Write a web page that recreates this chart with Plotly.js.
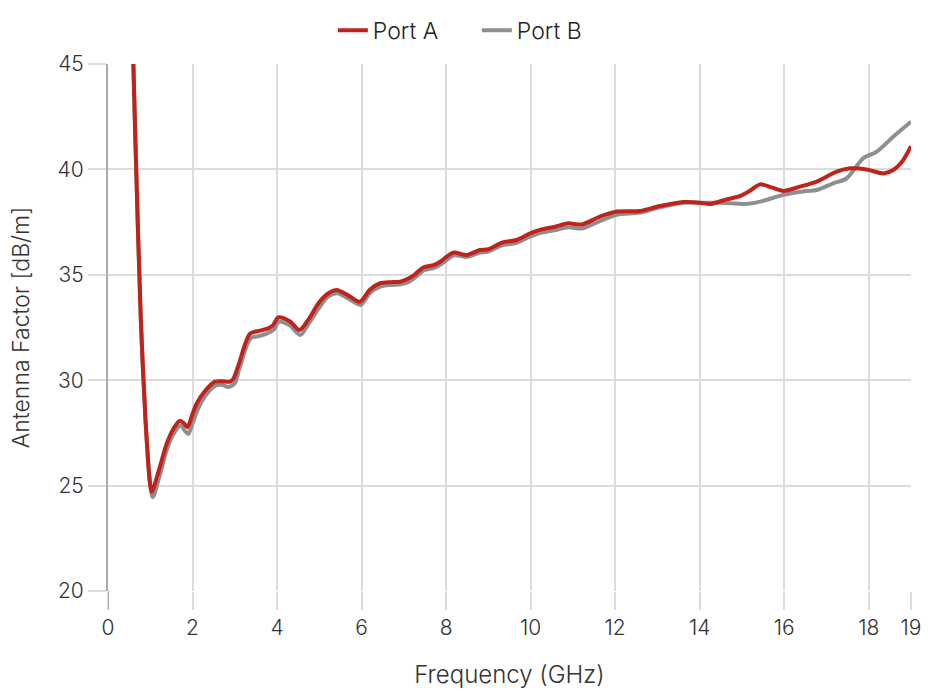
<!DOCTYPE html>
<html>
<head>
<meta charset="utf-8">
<script src="https://cdn.plot.ly/plotly-3.0.1.min.js"></script>
<style>html,body{margin:0;padding:0;background:#fff;}#chart{width:930px;height:696px;}</style>
</head>
<body>
<div id="chart"></div>
<script>
var portA_freq = [0.55, 0.60, 0.655, 0.774, 0.883, 0.994, 1.034, 1.2, 1.39, 1.55, 1.70, 1.80, 1.88, 2.0, 2.10, 2.3, 2.53, 2.7, 2.89, 2.97, 3.1, 3.36, 3.6, 3.79, 3.9, 4.03, 4.3, 4.53, 4.75, 4.98, 5.2, 5.41, 5.7, 5.96, 6.2, 6.44, 6.7, 6.91, 7.07, 7.25, 7.46, 7.70, 7.86, 8.17, 8.49, 8.80, 9.0, 9.32, 9.67, 9.99, 10.22, 10.58, 10.89, 11.21, 11.64, 12.04, 12.59, 13.06, 13.61, 14.01, 14.25, 14.64, 14.96, 15.2, 15.43, 15.7, 15.98, 16.37, 16.77, 17.24, 17.56, 17.95, 18.35, 18.58, 18.8, 19.0];
var portA_af = [48.5, 45, 40.92, 33.01, 28.27, 25.11, 24.71, 25.7, 27.0, 27.7, 28.08, 27.95, 27.77, 28.4, 28.9, 29.5, 29.93, 29.95, 29.93, 30.08, 30.8, 32.2, 32.35, 32.46, 32.6, 32.98, 32.8, 32.38, 32.9, 33.65, 34.1, 34.28, 34.0, 33.72, 34.3, 34.6, 34.65, 34.67, 34.79, 35.0, 35.35, 35.46, 35.62, 36.05, 35.94, 36.18, 36.21, 36.53, 36.65, 36.97, 37.13, 37.28, 37.44, 37.39, 37.76, 38.0, 38.03, 38.26, 38.45, 38.42, 38.36, 38.58, 38.74, 39.0, 39.29, 39.15, 38.98, 39.18, 39.42, 39.89, 40.05, 40.0, 39.81, 39.97, 40.4, 41.1];

var portB_freq = [0.55, 0.60, 0.66, 0.78, 0.89, 1.0, 1.06, 1.2, 1.39, 1.55, 1.72, 1.82, 1.90, 2.0, 2.12, 2.3, 2.55, 2.7, 2.85, 3.0, 3.1, 3.38, 3.6, 3.8, 3.92, 4.05, 4.3, 4.55, 4.75, 5.0, 5.2, 5.43, 5.7, 5.98, 6.2, 6.46, 6.7, 6.93, 7.1, 7.25, 7.48, 7.72, 7.88, 8.19, 8.5, 8.8, 9.0, 9.32, 9.67, 10.0, 10.22, 10.58, 10.89, 11.21, 11.64, 12.04, 12.59, 13.06, 13.61, 14.01, 14.49, 15.11, 15.43, 15.98, 16.53, 16.77, 17.16, 17.48, 17.87, 18.19, 18.58, 19.0];
var portB_af = [48.5, 45, 40.5, 32.7, 28.0, 25.0, 24.45, 25.3, 26.7, 27.45, 27.85, 27.6, 27.45, 27.95, 28.6, 29.25, 29.75, 29.78, 29.68, 29.85, 30.5, 32.0, 32.1, 32.25, 32.4, 32.78, 32.6, 32.15, 32.7, 33.45, 33.95, 34.12, 33.85, 33.57, 34.15, 34.45, 34.52, 34.55, 34.65, 34.85, 35.22, 35.33, 35.5, 35.92, 35.85, 36.05, 36.1, 36.4, 36.52, 36.82, 36.98, 37.12, 37.25, 37.2, 37.55, 37.85, 37.95, 38.2, 38.42, 38.42, 38.42, 38.36, 38.47, 38.79, 38.98, 39.02, 39.34, 39.58, 40.53, 40.84, 41.55, 42.26];

var xTickVals = [0, 2, 4, 6, 8, 10, 12, 14, 16, 18, 19];
var xTickText = ["0", "2", "4", "6", "8", "10", "12", "14", "16", "18", "19"];
var yTickVals = [20, 25, 30, 35, 40, 45];

var FONT = "Inter, Lato, 'Noto Sans', sans-serif";

var traces = [
  {x: portB_freq, y: portB_af, name: "Port B", type: "scatter", mode: "lines",
   line: {color: "#8f8f8f", width: 4, shape: "spline", smoothing: 0.8}, legendrank: 2},
  {x: portA_freq, y: portA_af, name: "Port A", type: "scatter", mode: "lines",
   line: {color: "#c0221c", width: 4, shape: "spline", smoothing: 0.8}, legendrank: 1}
];

var layout = {
  width: 930, height: 696,
  margin: {l: 108, r: 19, t: 64, b: 105, autoexpand: false},
  paper_bgcolor: "#fff", plot_bgcolor: "#fff",
  font: {family: FONT, size: 21, color: "#333", weight: 300},
  showlegend: true,
  legend: {orientation: "h", x: 0.280, xanchor: "left", y: 1.064, yanchor: "middle",
           entrywidth: 99, entrywidthmode: "pixels",
           font: {family: FONT, size: 23, color: "#222", weight: 300}},
  xaxis: {
    range: [0, 19], tickmode: "array", tickvals: xTickVals, ticktext: xTickText, automargin: false,
    showgrid: true, gridcolor: "#dcdcdc", gridwidth: 2,
    ticks: "outside", ticklen: 18, tickcolor: "#dcdcdc", tickwidth: 2,
    showline: false, zeroline: false,
    tickfont: {family: FONT, size: 21, color: "#333", weight: 300},
    title: {text: "Frequency (GHz)", standoff: 26, font: {family: FONT, size: 24, color: "#333", weight: 300}}
  },
  yaxis: {
    range: [20, 45], tickmode: "array", tickvals: yTickVals, automargin: false,
    showgrid: true, gridcolor: "#dcdcdc", gridwidth: 2,
    ticks: "outside", ticklen: 18, tickcolor: "#dcdcdc", tickwidth: 2,
    showline: true, linecolor: "#aaaaaa", linewidth: 2, zeroline: false,
    tickfont: {family: FONT, size: 21, color: "#333", weight: 300},
    title: {text: "Antenna Factor [dB/m]", standoff: 22, font: {family: FONT, size: 23, color: "#333", weight: 300}}
  },
  shapes: [
    {type: "line", xref: "x", yref: "paper", x0: 0, x1: 0, y0: -0.035, y1: 0,
     line: {color: "#aaaaaa", width: 2}}
  ]
};

Plotly.newPlot("chart", traces, layout, {displayModeBar: false, staticPlot: true});
</script>
</body>
</html>
